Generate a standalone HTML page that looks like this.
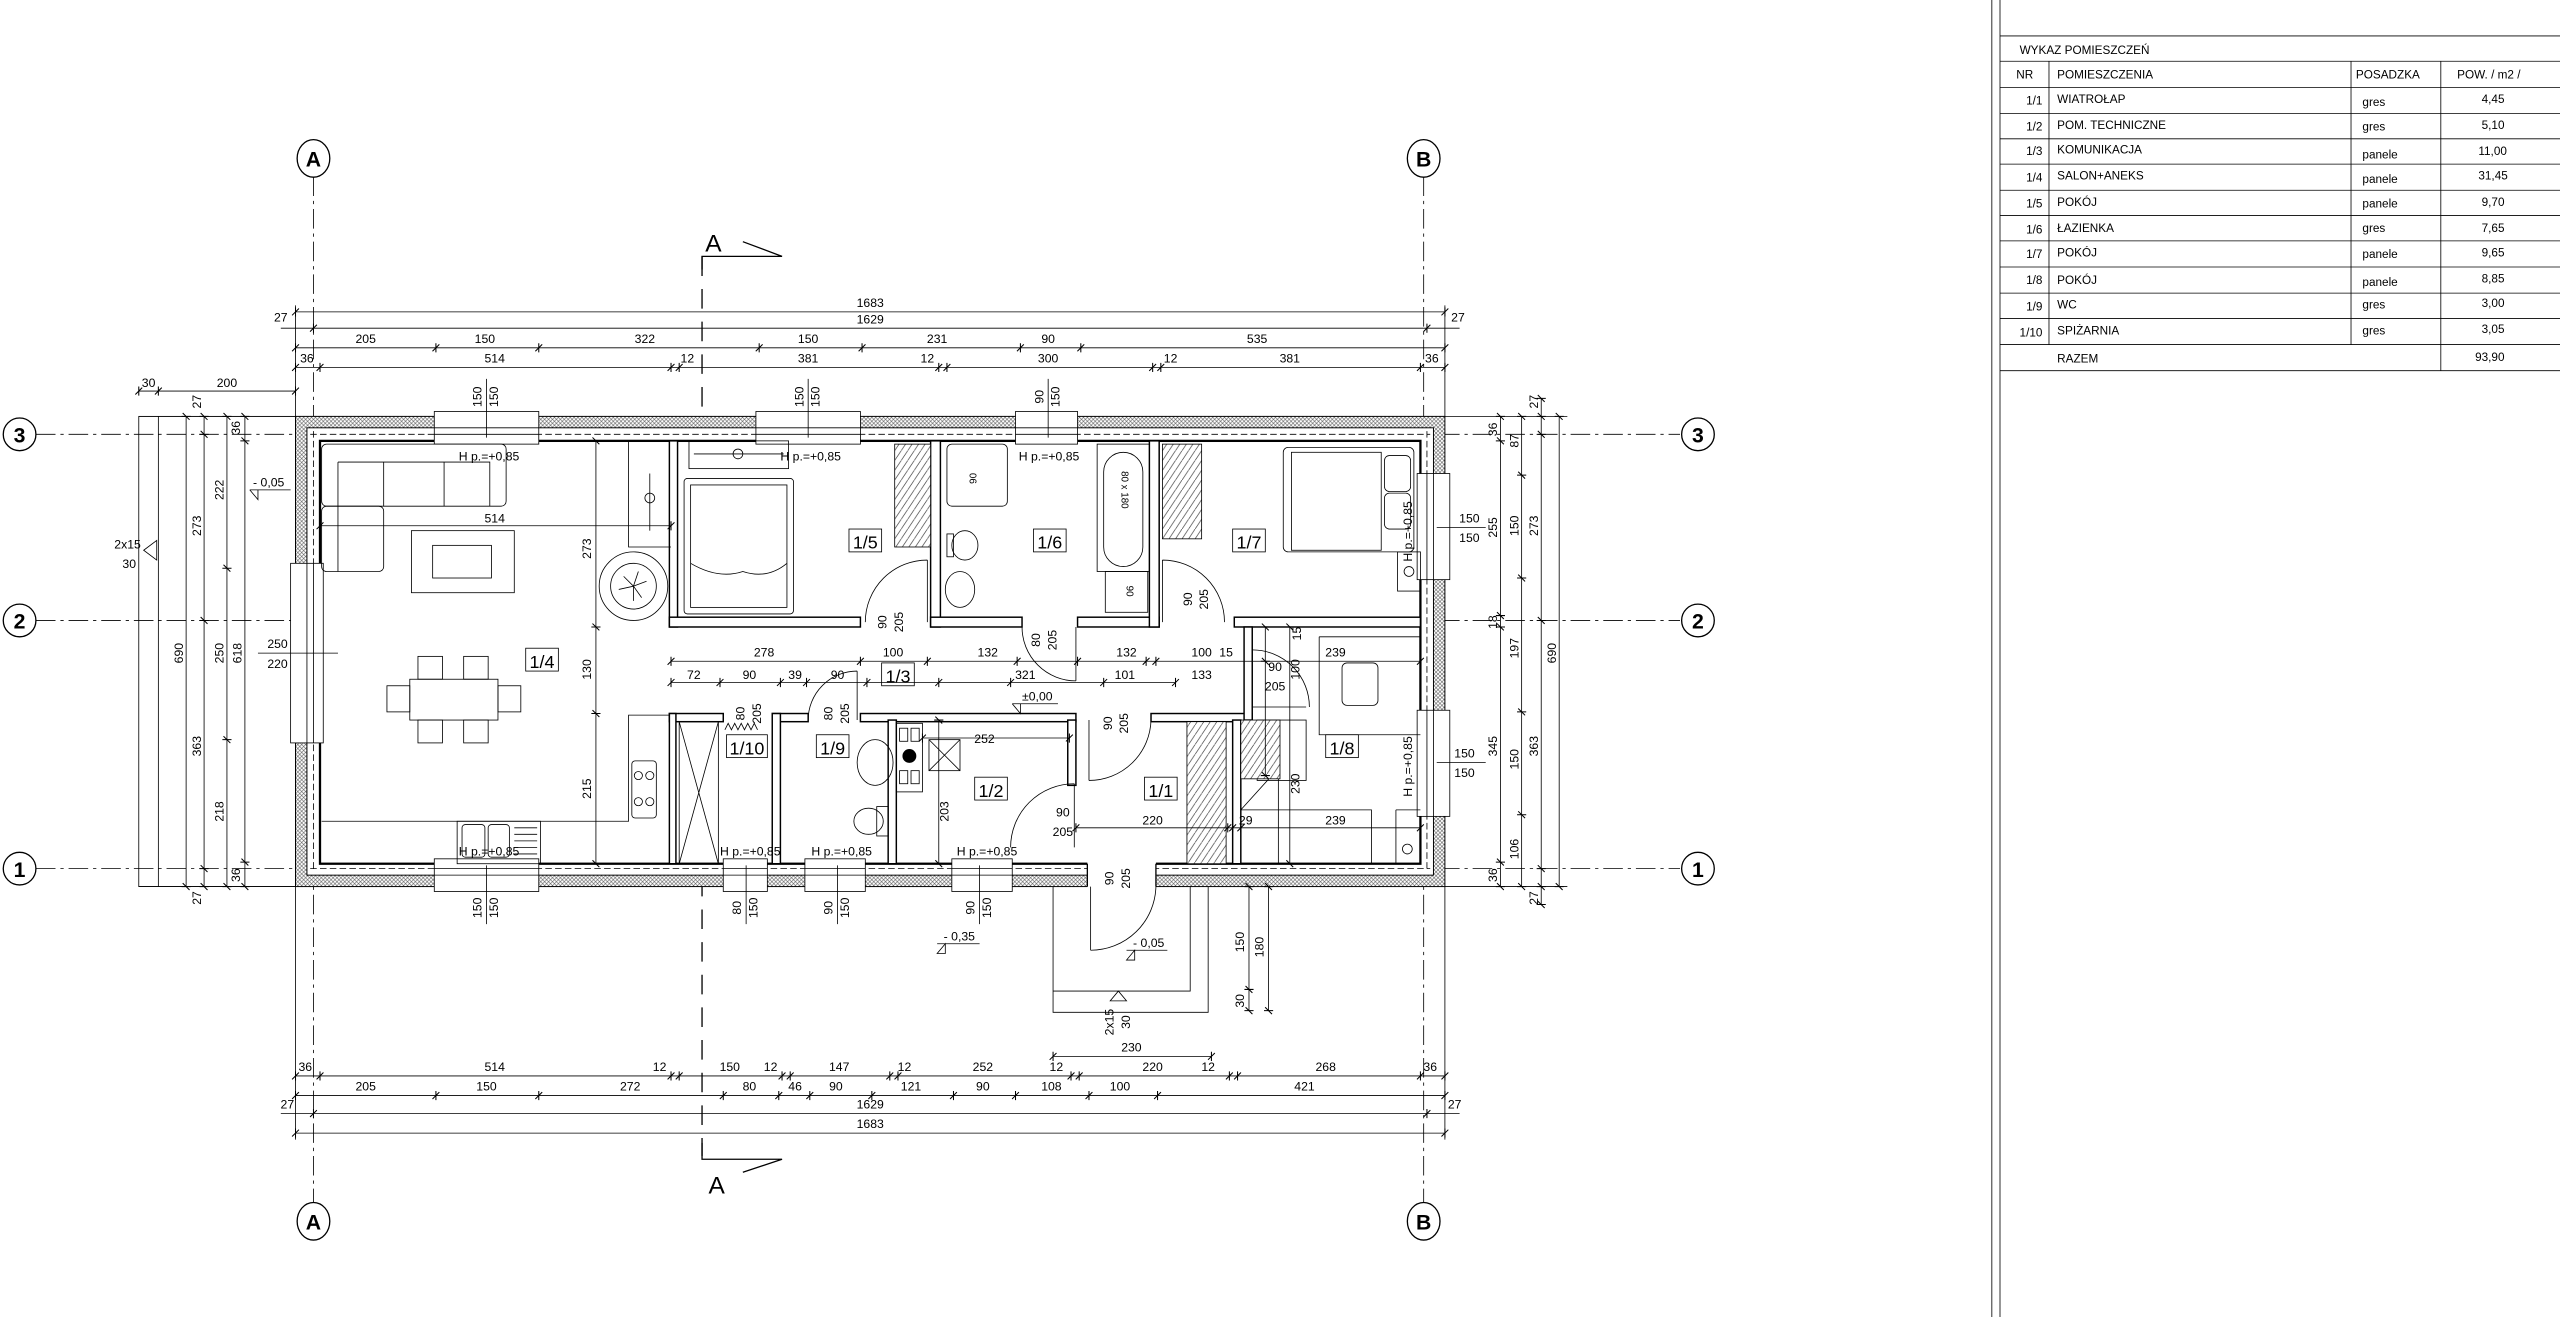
<!DOCTYPE html>
<html><head><meta charset="utf-8"><style>
html,body{margin:0;padding:0;background:#fff;}
svg{display:block;}
text{font-family:"Liberation Sans Narrow","Liberation Sans",sans-serif;fill:#000;}
.t{font-family:"Liberation Sans",sans-serif;font-size:7.2px;}
.d{font-size:7.5px;}
.rl{font-size:11px;}
.th{stroke:#000;stroke-width:0.5;fill:none;}
.md{stroke:#000;stroke-width:0.8;fill:none;}
.wl{stroke:#000;stroke-width:1.3;fill:none;}
.gr{stroke:#000;stroke-width:0.5;stroke-dasharray:12 3 2 3;fill:none;}
.dm{stroke:#000;stroke-width:0.5;fill:none;marker-start:url(#tk);marker-mid:url(#tk);marker-end:url(#tk);}
</style></head><body>
<svg width="2560" height="1317" viewBox="0 0 1568 806.6" xmlns="http://www.w3.org/2000/svg">
<defs>
<marker id="tk" viewBox="-5 -5 10 10" markerWidth="7" markerHeight="7" markerUnits="userSpaceOnUse" orient="auto">
<path d="M-3 3 L3 -3 M0 -4 L0 4" stroke="#000" stroke-width="0.9"/>
</marker>
<pattern id="ins" width="2.4" height="2.4" patternUnits="userSpaceOnUse">
<rect width="2.4" height="2.4" fill="#fff"/>
<path d="M0 2.4 L2.4 0 M0 0 L2.4 2.4" stroke="#555" stroke-width="0.35"/>
</pattern>
<pattern id="wh" width="4" height="6" patternUnits="userSpaceOnUse">
<rect width="4" height="6" fill="#fff"/>
<path d="M0 6 L4 0" stroke="#444" stroke-width="0.45"/>
</pattern>
</defs>
<rect width="1568" height="806.6" fill="#fff"/>

<!-- ===== TABLE ===== -->
<line x1="1220" y1="0" x2="1220" y2="806.6" class="th"/>
<line x1="1225" y1="0" x2="1225" y2="806.6" class="th"/>
<g class="th">
<line x1="1225" y1="22" x2="1568" y2="22"/>
<line x1="1225" y1="37.5" x2="1568" y2="37.5"/>
<line x1="1225" y1="53.5" x2="1568" y2="53.5"/>
<line x1="1225" y1="69.5" x2="1568" y2="69.5"/>
<line x1="1225" y1="85" x2="1568" y2="85"/>
<line x1="1225" y1="100.5" x2="1568" y2="100.5"/>
<line x1="1225" y1="116.5" x2="1568" y2="116.5"/>
<line x1="1225" y1="132" x2="1568" y2="132"/>
<line x1="1225" y1="147.5" x2="1568" y2="147.5"/>
<line x1="1225" y1="163.5" x2="1568" y2="163.5"/>
<line x1="1225" y1="179.5" x2="1568" y2="179.5"/>
<line x1="1225" y1="195" x2="1568" y2="195"/>
<line x1="1225" y1="211" x2="1568" y2="211"/>
<line x1="1225" y1="227" x2="1568" y2="227"/>
<line x1="1255" y1="37.5" x2="1255" y2="211"/>
<line x1="1440" y1="37.5" x2="1440" y2="211"/>
<line x1="1495" y1="37.5" x2="1495" y2="227"/>
</g>
<g class="t">
<text x="1237" y="33">WYKAZ POMIESZCZEŃ</text>
<text x="1235" y="48">NR</text><text x="1260" y="48">POMIESZCZENIA</text><text x="1443" y="48">POSADZKA</text><text x="1505" y="48">POW. / m2 /</text>
<g text-anchor="end">
<text x="1251" y="64">1/1</text><text x="1251" y="80">1/2</text><text x="1251" y="95">1/3</text><text x="1251" y="111">1/4</text><text x="1251" y="127">1/5</text><text x="1251" y="143">1/6</text><text x="1251" y="158">1/7</text><text x="1251" y="174">1/8</text><text x="1251" y="190">1/9</text><text x="1251" y="206">1/10</text>
</g>
<text x="1260" y="63">WIATROŁAP</text><text x="1260" y="79">POM. TECHNICZNE</text><text x="1260" y="94">KOMUNIKACJA</text><text x="1260" y="110">SALON+ANEKS</text><text x="1260" y="126">POKÓJ</text><text x="1260" y="142">ŁAZIENKA</text><text x="1260" y="157">POKÓJ</text><text x="1260" y="174">POKÓJ</text><text x="1260" y="189">WC</text><text x="1260" y="205">SPIŻARNIA</text>
<text x="1447" y="65">gres</text><text x="1447" y="80">gres</text><text x="1447" y="97">panele</text><text x="1447" y="112">panele</text><text x="1447" y="127">panele</text><text x="1447" y="142">gres</text><text x="1447" y="158">panele</text><text x="1447" y="175">panele</text><text x="1447" y="189">gres</text><text x="1447" y="205">gres</text>
<text x="1520" y="63">4,45</text><text x="1520" y="79">5,10</text><text x="1518" y="95">11,00</text><text x="1518" y="110">31,45</text><text x="1520" y="126">9,70</text><text x="1520" y="142">7,65</text><text x="1520" y="157">9,65</text><text x="1520" y="173">8,85</text><text x="1520" y="188">3,00</text><text x="1520" y="204">3,05</text>
<text x="1260" y="222">RAZEM</text><text x="1516" y="221">93,90</text>
</g>

<!-- ===== GRID ===== -->
<g class="gr">
<line x1="192" y1="108" x2="192" y2="737"/>
<line x1="872" y1="108" x2="872" y2="737"/>
<line x1="22" y1="266" x2="1029" y2="266"/>
<line x1="22" y1="380" x2="1029" y2="380"/>
<line x1="22" y1="532" x2="1029" y2="532"/>
</g>
<g class="md" fill="#fff">
<ellipse cx="192" cy="97" rx="10" ry="11.5" fill="#fff"/><ellipse cx="872" cy="97" rx="10" ry="11.5" fill="#fff"/>
<ellipse cx="192" cy="748" rx="10" ry="11.5" fill="#fff"/><ellipse cx="872" cy="748" rx="10" ry="11.5" fill="#fff"/>
<circle cx="12" cy="266" r="10" fill="#fff"/><circle cx="12" cy="380" r="10" fill="#fff"/><circle cx="12" cy="532" r="10" fill="#fff"/>
<circle cx="1040" cy="266" r="10" fill="#fff"/><circle cx="1040" cy="380" r="10" fill="#fff"/><circle cx="1040" cy="532" r="10" fill="#fff"/>
</g>
<g font-weight="bold" font-size="13" text-anchor="middle" style="font-family:'Liberation Sans',sans-serif">
<text x="192" y="102">A</text><text x="872" y="102">B</text><text x="192" y="753">A</text><text x="872" y="753">B</text>
<text x="12" y="271">3</text><text x="12" y="385">2</text><text x="12" y="537">1</text>
<text x="1040" y="271">3</text><text x="1040" y="385">2</text><text x="1040" y="537">1</text>
</g>

<!-- section A-A -->
<line x1="430" y1="157" x2="430" y2="708" stroke="#000" stroke-width="0.8" stroke-dasharray="12 8"/>
<path d="M430 165 V157 H479 L455 148" class="md"/>
<path d="M430 700 V710 H479 L455 718" class="md"/>
<text x="432" y="154" font-size="15" style="font-family:'Liberation Sans',sans-serif">A</text>
<text x="434" y="731" font-size="15" style="font-family:'Liberation Sans',sans-serif">A</text>

<!-- ===== TERRACE LEFT ===== -->
<g class="th">
<rect x="85" y="255" width="96" height="288"/>
<line x1="97" y1="255" x2="97" y2="543"/>
</g>
<path d="M88 337 L96 331 L96 343 Z" class="th"/>
<text x="70" y="336" class="d">2x15</text><text x="75" y="348" class="d">30</text>
<line x1="153" y1="300" x2="178" y2="300" class="th"/><path d="M153 300 L158 306 L158 300" class="th"/>
<text x="155" y="298" class="d">- 0,05</text>

<!-- porch -->
<g class="th">
<path d="M645 543 V620 H740 V543"/>
<path d="M645 607 H729 V543"/>
</g>
<path d="M685 607 L680 613 H690 Z" class="th"/>

<!-- ===== OUTER WALLS ===== -->
<rect x="181" y="255" width="704" height="288" fill="url(#ins)" stroke="#000" stroke-width="0.6"/>
<rect x="188" y="262" width="690" height="274" fill="#fff" stroke="#000" stroke-width="0.6"/>
<rect x="196" y="270" width="674" height="259" fill="#fff" stroke="#000" stroke-width="1.4"/>
<g class="th" stroke-dasharray="4 2">
<line x1="190" y1="266" x2="876" y2="266"/>
<line x1="190" y1="532" x2="876" y2="532"/>
<line x1="192" y1="264" x2="192" y2="534"/>
<line x1="874" y1="264" x2="874" y2="534"/>
</g>

<!-- windows top -->
<g fill="#fff" stroke="#000" stroke-width="0.5">
<rect x="266" y="252" width="64" height="20"/><rect x="463" y="252" width="64" height="20"/><rect x="622" y="252" width="38" height="20"/>
<rect x="266" y="526" width="64" height="20"/><rect x="443" y="526" width="27" height="20"/><rect x="493" y="526" width="37" height="20"/><rect x="583" y="526" width="37" height="20"/>
<rect x="178" y="345" width="20" height="110"/>
<rect x="868" y="290" width="20" height="65"/><rect x="868" y="435" width="20" height="65"/>
</g>
<g class="th">
<path d="M266 262 H330 M266 266 H330 M463 262 H527 M463 266 H527 M622 262 H660 M622 266 H660"/>
<path d="M266 532 H330 M266 536 H330 M443 532 H470 M443 536 H470 M493 532 H530 M493 536 H530 M583 532 H620 M583 536 H620"/>
<path d="M188 345 V455 M192 345 V455"/>
<path d="M874 290 V355 M878 290 V355 M874 435 V500 M878 435 V500"/>
</g>
<!-- entrance gap -->
<rect x="666" y="528" width="42" height="17" fill="#fff"/>
<path d="M666 529 V543 M708 529 V543" class="md"/>

<!-- ===== INTERIOR WALLS ===== -->
<g fill="#fff" stroke="#000" stroke-width="0.9">
<rect x="410" y="270" width="5" height="114"/>
<rect x="410" y="378" width="117" height="6"/>
<rect x="570" y="270" width="6" height="114"/>
<rect x="570" y="378" width="56" height="6"/>
<rect x="660" y="378" width="50" height="6"/>
<rect x="704" y="270" width="6" height="114"/>
<rect x="756" y="378" width="114" height="6"/>
<rect x="410" y="437" width="33" height="5"/>
<rect x="473" y="437" width="22" height="5"/>
<rect x="527" y="437" width="132" height="5"/>
<rect x="705" y="437" width="62" height="5"/>
<rect x="410" y="437" width="4" height="92"/>
<rect x="473" y="437" width="5" height="92"/>
<rect x="544" y="441" width="5" height="88"/>
<rect x="654" y="441" width="5" height="40"/>
<rect x="755" y="441" width="5" height="88"/>
<rect x="762" y="384" width="5" height="57"/>
</g>

<!-- doors -->
<g class="th">
<path d="M568 381 V343 M568 343 A38 38 0 0 0 530 381"/>
<path d="M659 384 V417 M626 384 A33 33 0 0 0 659 417"/>
<path d="M712 381 V343 M712 343 A38 38 0 0 1 750 381"/>
<path d="M767 433 L800 433 M767 398 A35 35 0 0 1 802 433"/>
<path d="M667 441 V478 M667 478 A38 38 0 0 0 705 441"/>
<path d="M658 480 V519 M658 480 A39 39 0 0 0 619 519"/>
<path d="M668 543 V582 M668 582 A40 40 0 0 0 708 543"/>
<path d="M525 441 V411 M495 441 A30 30 0 0 1 525 411"/>
<path d="M444 447 l2 -4 l2 4 l2 -4 l2 4 l2 -4 l2 4 l2 -4 l2 4 l2 -4 l2 4"/>
</g>

<!-- ===== FURNITURE ===== -->
<g class="th">
<!-- sofa -->
<rect x="197" y="272" width="113" height="38" rx="3"/>
<path d="M207 283 H300 V310 M207 283 V350 M235 283 V310 M272 283 V310"/>
<rect x="197" y="310" width="38" height="40" rx="3"/>
<!-- coffee table -->
<rect x="252" y="325" width="63" height="38"/><rect x="265" y="334" width="36" height="20"/>
<!-- cabinet -->
<path d="M385 270 V335 H411"/><path d="M398 290 V325"/><circle cx="398" cy="305" r="3"/>
<!-- stairs -->
<circle cx="388" cy="359" r="21"/><circle cx="388" cy="359" r="14"/>
<path d="M388 359 l-6 -6 M388 359 l8 -3 M388 359 l0 9 M388 359 l-9 2 M388 359 l5 7 M388 359 l3 -9"/>
<!-- dining -->
<rect x="251" y="416" width="54" height="25"/>
<rect x="256" y="402" width="15" height="14"/><rect x="284" y="402" width="15" height="14"/>
<rect x="256" y="441" width="15" height="14"/><rect x="284" y="441" width="15" height="14"/>
<rect x="237" y="420" width="14" height="16"/><rect x="305" y="420" width="14" height="16"/>
<!-- kitchen -->
<path d="M197 503 H385 V438 H410"/>
<rect x="387" y="466" width="15" height="35" rx="2"/>
<circle cx="391" cy="475" r="2.5"/><circle cx="398" cy="475" r="2.5"/><circle cx="391" cy="491" r="2.5"/><circle cx="398" cy="491" r="2.5"/>
<rect x="280" y="503" width="51" height="26"/><rect x="283" y="505" width="14" height="20" rx="2"/><rect x="299" y="505" width="13" height="20" rx="2"/>
<path d="M315 507 H329 M315 511 H329 M315 515 H329 M315 519 H329 M315 523 H329"/>
<!-- 1/5 -->
<rect x="419" y="293" width="67" height="83" rx="2"/><rect x="423" y="297" width="59" height="75"/>
<path d="M423 345 Q440 355 455 350 Q470 355 482 345"/>
<rect x="422" y="270" width="61" height="17"/><path d="M425 278 H480"/><circle cx="452" cy="278" r="3"/>
<!-- 1/6 -->
<rect x="580" y="272" width="37" height="38" rx="3"/>
<ellipse cx="591" cy="334" rx="8" ry="9"/><rect x="580" y="327" width="4" height="14"/>
<ellipse cx="588" cy="361" rx="9" ry="11"/>
<rect x="672" y="272" width="32" height="78"/><rect x="676" y="277" width="24" height="70" rx="12"/>
<rect x="677" y="350" width="26" height="25"/>
<!-- 1/7 -->
<rect x="786" y="274" width="80" height="64" rx="3"/><rect x="791" y="277" width="55" height="60"/>
<rect x="848" y="279" width="16" height="22" rx="3"/><rect x="848" y="302" width="16" height="22" rx="3"/>
<rect x="856" y="338" width="14" height="24"/><circle cx="863" cy="350" r="3"/>
<!-- 1/8 -->
<path d="M808 390 V450 H870 M808 390 H870"/><rect x="822" y="406" width="22" height="26" rx="3"/>
<path d="M760 496 H840 V529 M855 496 H870 M855 496 V529"/><path d="M760 496 L779 475 M783 475 V529"/>
<rect x="770" y="441" width="30" height="37"/><circle cx="862" cy="520" r="3"/>
<!-- 1/10 shelves -->
<rect x="416" y="442" width="24" height="87"/><path d="M416 442 L440 529 M440 442 L416 529"/>
<!-- 1/9 -->
<ellipse cx="536" cy="467" rx="11" ry="14"/><ellipse cx="532" cy="503" rx="9" ry="8"/><rect x="537" y="494" width="7" height="18"/>
<!-- 1/2 boiler -->
<rect x="549" y="443" width="16" height="42"/><rect x="551" y="446" width="5" height="8"/><rect x="558" y="446" width="5" height="8"/><rect x="551" y="472" width="5" height="8"/><rect x="558" y="472" width="5" height="8"/>
<circle cx="557" cy="463" r="4" fill="#000"/><rect x="569" y="453" width="19" height="19"/><path d="M569 453 L588 472 M588 453 L569 472"/>
</g>
<!-- wardrobes -->
<g stroke="#000" stroke-width="0.5">
<rect x="548" y="272" width="22" height="63" fill="url(#wh)"/>
<rect x="712" y="272" width="24" height="58" fill="url(#wh)"/>
<rect x="727" y="442" width="24" height="87" fill="url(#wh)"/>
<rect x="760" y="441" width="24" height="36" fill="url(#wh)"/>
</g>

<!-- room labels -->
<g class="th" fill="#fff">
<rect x="322" y="397" width="20" height="14" fill="#fff"/>
<rect x="520" y="324" width="20" height="14" fill="#fff"/>
<rect x="633" y="324" width="20" height="14" fill="#fff"/>
<rect x="755" y="324" width="20" height="14" fill="#fff"/>
<rect x="540" y="406" width="20" height="14" fill="#fff"/>
<rect x="445" y="450" width="25" height="14" fill="#fff"/>
<rect x="500" y="450" width="20" height="14" fill="#fff"/>
<rect x="597" y="476" width="20" height="14" fill="#fff"/>
<rect x="701" y="476" width="20" height="14" fill="#fff"/>
<rect x="812" y="450" width="20" height="14" fill="#fff"/>
</g>
<g class="rl" text-anchor="middle">
<text x="332" y="409">1/4</text><text x="530" y="336">1/5</text><text x="643" y="336">1/6</text><text x="765" y="336">1/7</text>
<text x="550" y="418">1/3</text><text x="457.5" y="462">1/10</text><text x="510" y="462">1/9</text><text x="607" y="488">1/2</text>
<text x="711" y="488">1/1</text><text x="822" y="462">1/8</text>
</g>

<!-- Hp labels -->
<g class="d" font-size="8">
<text x="281" y="282">H p.=+0,85</text><text x="478" y="282">H p.=+0,85</text><text x="624" y="282">H p.=+0,85</text>
<text x="281" y="524">H p.=+0,85</text><text x="441" y="524">H p.=+0,85</text><text x="497" y="524">H p.=+0,85</text><text x="586" y="524">H p.=+0,85</text>
<text transform="translate(865,344) rotate(-90)">H p.=+0,85</text>
<text transform="translate(865,488) rotate(-90)">H p.=+0,85</text>
</g>

<!-- ===== DIMENSIONS ===== -->
<polyline class="dm" points="181,191 885,191"/>
<polyline class="dm" points="192,201 874,201"/>
<line x1="172" y1="201" x2="192" y2="201" class="th"/><line x1="874" y1="201" x2="894" y2="201" class="th"/>
<polyline class="dm" points="181,213 267,213 330,213 465,213 528,213 625,213 662,213 885,213"/>
<polyline class="dm" points="181,225 196,225 411,225 416,225 575,225 580,225 706,225 711,225 870,225 885,225"/>
<polyline class="dm" points="85,239.5 97,239.5 181,239.5"/>
<g class="th">
<path d="M181 187 V255 M885 187 V255 M298 232 V268 M495 232 V268 M642 232 V268"/>
<path d="M298 530 V566 M457 530 V566 M513 530 V566 M600 530 V566 M181 543 V698 M885 543 V698"/>
</g>
<g class="d" text-anchor="middle">
<text x="533" y="188">1683</text><text x="533" y="198">1629</text>
<text x="172" y="197">27</text><text x="893" y="197">27</text>
<text x="224" y="210">205</text><text x="297" y="210">150</text><text x="395" y="210">322</text><text x="495" y="210">150</text><text x="574" y="210">231</text><text x="642" y="210">90</text><text x="770" y="210">535</text>
<text x="188" y="222">36</text><text x="303" y="222">514</text><text x="421" y="222">12</text><text x="495" y="222">381</text><text x="568" y="222">12</text><text x="642" y="222">300</text><text x="717" y="222">12</text><text x="790" y="222">381</text><text x="877" y="222">36</text>
<text x="91" y="237">30</text><text x="139" y="237">200</text>
</g>
<!-- window labels top/bottom -->
<g class="d" text-anchor="middle">
<text transform="translate(295,243) rotate(-90)">150</text><text transform="translate(305,243) rotate(-90)">150</text>
<text transform="translate(492,243) rotate(-90)">150</text><text transform="translate(502,243) rotate(-90)">150</text>
<text transform="translate(639,243) rotate(-90)">90</text><text transform="translate(649,243) rotate(-90)">150</text>
<text transform="translate(295,556) rotate(-90)">150</text><text transform="translate(305,556) rotate(-90)">150</text>
<text transform="translate(454,556) rotate(-90)">80</text><text transform="translate(464,556) rotate(-90)">150</text>
<text transform="translate(510,556) rotate(-90)">90</text><text transform="translate(520,556) rotate(-90)">150</text>
<text transform="translate(597,556) rotate(-90)">90</text><text transform="translate(607,556) rotate(-90)">150</text>
<text transform="translate(682,538) rotate(-90)">90</text><text transform="translate(692,538) rotate(-90)">205</text>
</g>

<!-- bottom dims -->
<polyline class="dm" points="181,659 196,659 411,659 416,659 479,659 484,659 545,659 550,659 656,659 661,659 753,659 758,659 870,659 885,659"/>
<polyline class="dm" points="181,671 267,671 330,671 443,671 477,671 496,671 534,671 584,671 622,671 667,671 709,671 885,671"/>
<polyline class="dm" points="192,682 874,682"/>
<polyline class="dm" points="181,694 885,694"/>
<line x1="172" y1="682" x2="192" y2="682" class="th"/><line x1="874" y1="682" x2="894" y2="682" class="th"/>
<g class="d" text-anchor="middle">
<text x="187" y="656">36</text><text x="303" y="656">514</text><text x="404" y="656">12</text><text x="447" y="656">150</text><text x="472" y="656">12</text><text x="514" y="656">147</text><text x="554" y="656">12</text><text x="602" y="656">252</text><text x="647" y="656">12</text><text x="706" y="656">220</text><text x="740" y="656">12</text><text x="812" y="656">268</text><text x="876" y="656">36</text>
<text x="224" y="668">205</text><text x="298" y="668">150</text><text x="386" y="668">272</text><text x="459" y="668">80</text><text x="487" y="668">46</text><text x="512" y="668">90</text><text x="558" y="668">121</text><text x="602" y="668">90</text><text x="644" y="668">108</text><text x="686" y="668">100</text><text x="799" y="668">421</text>
<text x="533" y="679">1629</text><text x="533" y="691">1683</text>
<text x="176" y="679">27</text><text x="891" y="679">27</text>
</g>

<!-- porch dims -->
<polyline class="dm" points="765,543 765,606 765,619"/>
<polyline class="dm" points="777,543 777,619"/>
<polyline class="dm" points="645,647 742,647"/>
<g class="d" text-anchor="middle">
<text transform="translate(762,577) rotate(-90)">150</text><text transform="translate(774,580) rotate(-90)">180</text><text transform="translate(762,613) rotate(-90)">30</text>
<text x="693" y="644">230</text>
<text transform="translate(682,626) rotate(-90)">2x15</text><text transform="translate(692,626) rotate(-90)">30</text>
</g>

<!-- left vertical dims -->
<polyline class="dm" points="114,255 114,543"/>
<polyline class="dm" points="125,255 125,266 125,380 125,532 125,543"/>
<polyline class="dm" points="139,255 139,348 139,453 139,543"/>
<polyline class="dm" points="150,255 150,270 150,528 150,543"/>
<g class="th"><path d="M85 255 H181 M85 543 H181 M158 400 H207"/></g>
<g class="d" text-anchor="middle">
<text transform="translate(112,400) rotate(-90)">690</text>
<text transform="translate(123,246) rotate(-90)">27</text><text transform="translate(123,322) rotate(-90)">273</text><text transform="translate(123,457) rotate(-90)">363</text><text transform="translate(123,550) rotate(-90)">27</text>
<text transform="translate(137,300) rotate(-90)">222</text><text transform="translate(137,400) rotate(-90)">250</text><text transform="translate(137,497) rotate(-90)">218</text>
<text transform="translate(147,262) rotate(-90)">36</text><text transform="translate(148,400) rotate(-90)">618</text><text transform="translate(147,536) rotate(-90)">36</text>
<text x="170" y="397">250</text><text x="170" y="409">220</text>
</g>

<!-- right vertical dims -->
<polyline class="dm" points="919,255 919,270 919,377 919,384 919,528 919,543"/>
<polyline class="dm" points="932,255 932,291 932,354 932,436 932,499 932,543"/>
<polyline class="dm" points="944,244 944,255 944,266 944,380 944,532 944,543 944,554"/>
<polyline class="dm" points="955,255 955,543"/>
<g class="th"><path d="M880 323 H910 M880 467 H910 M885 255 H960 M885 543 H960"/></g>
<g class="d" text-anchor="middle">
<text transform="translate(917,263) rotate(-90)">36</text><text transform="translate(917,323) rotate(-90)">255</text><text transform="translate(917,381) rotate(-90)">18</text><text transform="translate(917,457) rotate(-90)">345</text><text transform="translate(917,536) rotate(-90)">36</text>
<text transform="translate(930,270) rotate(-90)">87</text><text transform="translate(930,322) rotate(-90)">150</text><text transform="translate(930,397) rotate(-90)">197</text><text transform="translate(930,465) rotate(-90)">150</text><text transform="translate(930,520) rotate(-90)">106</text>
<text transform="translate(942,246) rotate(-90)">27</text><text transform="translate(942,322) rotate(-90)">273</text><text transform="translate(942,457) rotate(-90)">363</text><text transform="translate(942,550) rotate(-90)">27</text>
<text transform="translate(953,400) rotate(-90)">690</text>
<text x="900" y="320">150</text><text x="900" y="332">150</text>
<text x="897" y="464">150</text><text x="897" y="476">150</text>
</g>

<!-- interior dims -->
<polyline class="dm" points="196,322 411,322"/>
<polyline class="dm" points="365,270 365,384 365,437 365,529"/>
<polyline class="dm" points="411,405 527,405 568,405 623,405 660,405 702,405 708,405 870,405"/>
<polyline class="dm" points="411,418 441,418 478,418 494,418 531,418 575,418 619,418 676,418 720,418"/>
<polyline class="dm" points="775,384 775,405 775,475"/>
<polyline class="dm" points="790,384 790,529"/>
<polyline class="dm" points="565,452 655,452"/>
<polyline class="dm" points="575,441 575,529"/>
<polyline class="dm" points="659,507 752,507 755,507 760,507 870,507"/>
<g class="d" text-anchor="middle">
<text x="303" y="320">514</text>
<text transform="translate(362,336) rotate(-90)">273</text><text transform="translate(362,410) rotate(-90)">130</text><text transform="translate(362,483) rotate(-90)">215</text>
<text x="468" y="402">278</text><text x="547" y="402">100</text><text x="605" y="402">132</text><text x="690" y="402">132</text><text x="736" y="402">100</text><text x="751" y="402">15</text><text x="781" y="411">90</text><text x="818" y="402">239</text>
<text x="425" y="416">72</text><text x="459" y="416">90</text><text x="487" y="416">39</text><text x="513" y="416">90</text><text x="628" y="416">321</text><text x="689" y="416">101</text><text x="736" y="416">133</text><text x="781" y="423">205</text>
<text x="603" y="455">252</text>
<text transform="translate(581,497) rotate(-90)">203</text>
<text x="706" y="505">220</text><text x="763" y="505">29</text><text x="818" y="505">239</text>
<text x="651" y="500">90</text><text x="651" y="512">205</text>
<text transform="translate(796,480) rotate(-90)">230</text>
<text transform="translate(796,410) rotate(-90)">100</text>
<text transform="translate(797,388) rotate(-90)">15</text>
<text transform="translate(543,381) rotate(-90)">90</text><text transform="translate(553,381) rotate(-90)">205</text>
<text transform="translate(637,392) rotate(-90)">80</text><text transform="translate(647,392) rotate(-90)">205</text>
<text transform="translate(730,367) rotate(-90)">90</text><text transform="translate(740,367) rotate(-90)">205</text>
<text transform="translate(456,437) rotate(-90)">80</text><text transform="translate(466,437) rotate(-90)">205</text>
<text transform="translate(510,437) rotate(-90)">80</text><text transform="translate(520,437) rotate(-90)">205</text>
<text transform="translate(681,443) rotate(-90)">90</text><text transform="translate(691,443) rotate(-90)">205</text>
<text transform="translate(598,293) rotate(-90)" font-size="6">90</text>
<text transform="translate(687,300) rotate(90)" font-size="6">80 x 180</text>
<text transform="translate(690,362) rotate(90)" font-size="6">90</text>
</g>
<!-- levels -->
<g class="th"><path d="M620 431 H648 M625 431 L625 437 L620 431"/><path d="M574 578 H600 M579 578 L574 584 L579 584 Z"/><path d="M690 582 H715 M695 582 L690 588 L695 588 Z"/></g>
<text x="626" y="429" class="d">±0,00</text>
<text x="578" y="576" class="d">- 0,35</text>
<text x="694" y="580" class="d">- 0,05</text>
</svg>
</body></html>
